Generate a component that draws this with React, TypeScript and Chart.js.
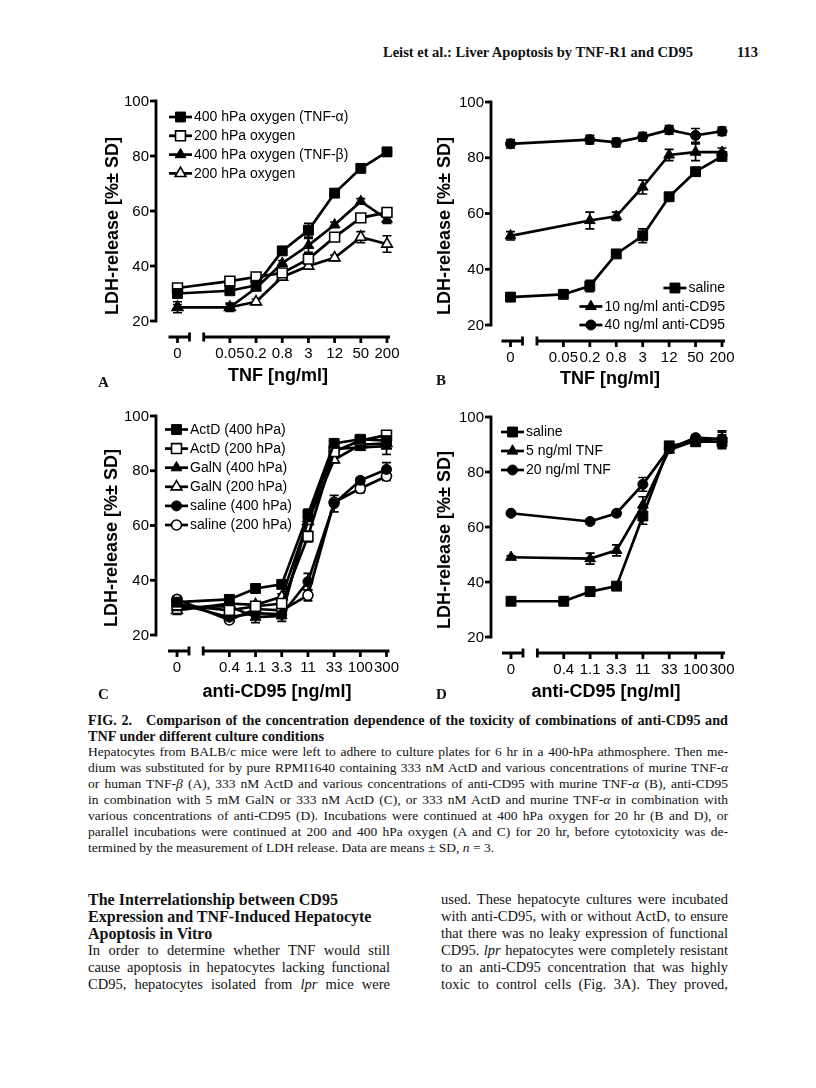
import React, { useEffect, useRef } from "react";
import { Chart, registerables } from "chart.js";

Chart.register(...registerables);

// ---------------- DATA ----------------
const tnfDoses = ["0", "0.05", "0.2", "0.8", "3", "12", "50", "200"];
const cd95Doses = ["0", "0.4", "1.1", "3.3", "11", "33", "100", "300"];
const yTickValues = [20, 40, 60, 80, 100];
const yTitle = "LDH-release [%\u00B1 SD]";

// Panel A
const aLabels = ["400 hPa oxygen (TNF-\u03B1)", "200 hPa oxygen", "400 hPa oxygen (TNF-\u03B2)", "200 hPa oxygen"];
const aTnfAlpha400 = [30, 31, 33, 45.5, 53, 66.5, 75.5, 81.5];
const aTnfAlpha400Sd = [1, 1, 1, 1, 2.5, 1, 1, 1.5];
const aTnfAlpha200 = [32, 34.5, 36, 37.5, 42.5, 50.5, 57.5, 59.5];
const aTnfAlpha200Sd = [1, 1, 1, 1, 2, 1, 1.5, 1.5];
const aTnfBeta400 = [25, 25, 32, 41, 47.5, 55, 63.5, 57];
const aTnfBeta400Sd = [2, 1.5, 1, 1, 2.5, 1, 1, 1.5];
const aTnfBeta200 = [25, 25, 27, 36, 40, 43, 50.5, 48];
const aTnfBeta200Sd = [1, 1, 1, 1, 1, 1, 2, 3];

// Panel B
const bLabels = ["saline", "10 ng/ml anti-CD95", "40 ng/ml anti-CD95"];
const bSaline = [30, 31, 34, 45.5, 52, 66, 75, 80.5];
const bSalineSd = [1, 1, 2, 1, 2.5, 1, 1, 1.5];
const bCd95Low = [52, null, 57.5, 59, 69.5, 81, 82, 82];
const bCd95LowSd = [1.5, 0, 3, 1.5, 2.5, 2, 3, 1.5];
const bCd95High = [85, null, 86.5, 85.5, 87.5, 90, 88, 89.5];
const bCd95HighSd = [1.5, 0, 1.5, 1.5, 1.5, 1.5, 2.5, 1.5];

// Panel C
const cLabels = ["ActD (400 hPa)", "ActD (200 hPa)", "GalN (400 hPa)", "GalN (200 hPa)", "saline (400 hPa)", "saline (200 hPa)"];
const cActD400 = [32, 33, 37, 38.5, 64, 90, 91.5, 91];
const cActD400Sd = [2, 1, 1, 1, 2, 1, 1, 2];
const cActD200 = [31, 29, 30.5, 31.5, 56, 87, 91, 93];
const cActD200Sd = [1.5, 1, 1.5, 1, 2, 1, 1, 1];
const cGalN400 = [30, 30.5, 26.5, 27, 62.5, 88, 88.5, 89];
const cGalN400Sd = [2, 1, 2, 2, 2, 1, 1, 3];
const cGalN200 = [29, 31.5, 31, 34, 61.5, 84, 89.5, 90];
const cGalN200Sd = [1.5, 1, 1, 1, 1, 1, 1, 1];
const cSaline400 = [31.5, 26.5, 28, 27.5, 39.5, 68, 76.5, 80.5];
const cSaline400Sd = [1.5, 1, 1, 1, 3, 3, 1, 2.5];
const cSaline200 = [33, 25.5, 29.5, 29, 34.5, 68.5, 73.5, 78];
const cSaline200Sd = [1, 1, 1, 1, 2, 1, 1.5, 1.5];

// Panel D
const dLabels = ["saline", "5 ng/ml TNF", "20 ng/ml TNF"];
const dSaline = [33, 33, 36.5, 38.5, 64, 89.5, 91, 91];
const dSalineSd = [0.5, 1.5, 1.5, 1, 3, 1, 1.5, 2.5];
const dTnf5 = [49, null, 48.5, 51.5, 68, 88, 91.5, 92];
const dTnf5Sd = [0.5, 0, 2, 2, 3, 1, 1, 2.5];
const dTnf20 = [65, null, 62, 65, 75.5, 88.5, 92.5, 92];
const dTnf20Sd = [0.5, 0, 1, 1, 2.5, 1, 1, 3];

// ---------------- STYLE / LAYOUT ----------------
const SANS = "'Liberation Sans', Arial, Helvetica, sans-serif";
const SERIF = "'Liberation Serif', 'Times New Roman', serif";
const RADIUS: Record<string, number> = { rect: 7, triangle: 6.2, circle: 5 };
const LINE_W = 2.7;

type Marker = "rect" | "triangle" | "circle";
type Series = { label: string; values: (number | null)[]; sd: number[]; marker: Marker; filled: boolean };
type Panel = {
  canvas: { left: number; top: number; width: number; height: number };
  area: { left: number; right: number; top: number; bottom: number };
  yAxisX: number;
  doses: string[];
  series: Series[];
  xTitle: string;
  xTitleX: number;
  xTitleY: number;
  yTitleX: number;
  yTitleY: number;
  legend: { align: "left" | "right"; lineX?: number; textX?: number; textRight?: number; y0: number; step: number };
};

const panels: Panel[] = [
  {
    canvas: { left: 80, top: 85, width: 340, height: 310 },
    area: { left: 177.5, right: 387, top: 101, bottom: 321 },
    yAxisX: 156,
    doses: tnfDoses,
    series: [
      { label: aLabels[0], values: aTnfAlpha400, sd: aTnfAlpha400Sd, marker: "rect", filled: true },
      { label: aLabels[1], values: aTnfAlpha200, sd: aTnfAlpha200Sd, marker: "rect", filled: false },
      { label: aLabels[2], values: aTnfBeta400, sd: aTnfBeta400Sd, marker: "triangle", filled: true },
      { label: aLabels[3], values: aTnfBeta200, sd: aTnfBeta200Sd, marker: "triangle", filled: false },
    ],
    xTitle: "TNF [ng/ml]",
    xTitleX: 278,
    xTitleY: 381,
    yTitleX: 113,
    yTitleY: 226,
    legend: { align: "left", lineX: 169, textX: 194, y0: 117, step: 18.8 },
  },
  {
    canvas: { left: 425, top: 85, width: 340, height: 310 },
    area: { left: 510.5, right: 722, top: 102, bottom: 325 },
    yAxisX: 491,
    doses: tnfDoses,
    series: [
      { label: bLabels[0], values: bSaline, sd: bSalineSd, marker: "rect", filled: true },
      { label: bLabels[1], values: bCd95Low, sd: bCd95LowSd, marker: "triangle", filled: true },
      { label: bLabels[2], values: bCd95High, sd: bCd95HighSd, marker: "circle", filled: true },
    ],
    xTitle: "TNF [ng/ml]",
    xTitleX: 610,
    xTitleY: 384,
    yTitleX: 445,
    yTitleY: 226,
    legend: { align: "right", textRight: 725, y0: 288, step: 18.5 },
  },
  {
    canvas: { left: 80, top: 400, width: 340, height: 310 },
    area: { left: 177, right: 386.5, top: 416, bottom: 635 },
    yAxisX: 156,
    doses: cd95Doses,
    series: [
      { label: cLabels[0], values: cActD400, sd: cActD400Sd, marker: "rect", filled: true },
      { label: cLabels[1], values: cActD200, sd: cActD200Sd, marker: "rect", filled: false },
      { label: cLabels[2], values: cGalN400, sd: cGalN400Sd, marker: "triangle", filled: true },
      { label: cLabels[3], values: cGalN200, sd: cGalN200Sd, marker: "triangle", filled: false },
      { label: cLabels[4], values: cSaline400, sd: cSaline400Sd, marker: "circle", filled: true },
      { label: cLabels[5], values: cSaline200, sd: cSaline200Sd, marker: "circle", filled: false },
    ],
    xTitle: "anti-CD95 [ng/ml]",
    xTitleX: 277,
    xTitleY: 697,
    yTitleX: 112,
    yTitleY: 538,
    legend: { align: "left", lineX: 165, textX: 190, y0: 429.5, step: 19.1 },
  },
  {
    canvas: { left: 425, top: 400, width: 340, height: 310 },
    area: { left: 511, right: 722, top: 417, bottom: 637 },
    yAxisX: 491,
    doses: cd95Doses,
    series: [
      { label: dLabels[0], values: dSaline, sd: dSalineSd, marker: "rect", filled: true },
      { label: dLabels[1], values: dTnf5, sd: dTnf5Sd, marker: "triangle", filled: true },
      { label: dLabels[2], values: dTnf20, sd: dTnf20Sd, marker: "circle", filled: true },
    ],
    xTitle: "anti-CD95 [ng/ml]",
    xTitleX: 606,
    xTitleY: 697,
    yTitleX: 445,
    yTitleY: 540,
    legend: { align: "left", lineX: 501, textX: 526, y0: 432, step: 19 },
  },
];

// insert the axis break as an empty category after the zero dose
function withBreak<T>(arr: T[], filler: T): T[] {
  return [arr[0], filler, ...arr.slice(1)];
}

function drawMarker(ctx: CanvasRenderingContext2D, marker: Marker, filled: boolean, x: number, y: number) {
  const r = RADIUS[marker];
  ctx.beginPath();
  if (marker === "rect") {
    const s = Math.SQRT1_2 * r;
    ctx.rect(x - s, y - s, 2 * s, 2 * s);
  } else if (marker === "triangle") {
    let a = 0;
    ctx.moveTo(x + Math.sin(a) * r, y - Math.cos(a) * r);
    a += (2 * Math.PI) / 3;
    ctx.lineTo(x + Math.sin(a) * r, y - Math.cos(a) * r);
    a += (2 * Math.PI) / 3;
    ctx.lineTo(x + Math.sin(a) * r, y - Math.cos(a) * r);
    ctx.closePath();
  } else {
    ctx.arc(x, y, r, 0, Math.PI * 2);
  }
  ctx.fillStyle = filled ? "#000" : "#fff";
  ctx.fill();
  ctx.lineWidth = filled ? 1 : 1.6;
  ctx.strokeStyle = "#000";
  ctx.stroke();
}

function makePlugin(panel: Panel) {
  const ox = panel.canvas.left;
  const oy = panel.canvas.top;
  return {
    id: "prismAxes",
    beforeDatasetsDraw(chart: any) {
      const ctx: CanvasRenderingContext2D = chart.ctx;
      const ys = chart.scales.y;
      ctx.save();
      ctx.strokeStyle = "#000";
      ctx.lineWidth = 1.7;
      panel.series.forEach((s, i) => {
        const meta = chart.getDatasetMeta(i);
        const vals = withBreak(s.values, null);
        const sds = withBreak(s.sd, 0);
        vals.forEach((v, j) => {
          const sd = sds[j];
          if (v == null || !sd) return;
          const pt = meta.data[j];
          if (!pt) return;
          const x = pt.x;
          const yt = ys.getPixelForValue(v + sd);
          const yb = ys.getPixelForValue(v - sd);
          ctx.beginPath();
          ctx.moveTo(x, yt);
          ctx.lineTo(x, yb);
          ctx.moveTo(x - 4.5, yt);
          ctx.lineTo(x + 4.5, yt);
          ctx.moveTo(x - 4.5, yb);
          ctx.lineTo(x + 4.5, yb);
          ctx.stroke();
        });
      });
      ctx.restore();
    },
    afterDraw(chart: any) {
      const ctx: CanvasRenderingContext2D = chart.ctx;
      const xs = chart.scales.x;
      const ys = chart.scales.y;
      const area = chart.chartArea;
      const ax = panel.yAxisX - ox;
      ctx.save();
      ctx.strokeStyle = "#000";
      ctx.fillStyle = "#000";
      ctx.lineWidth = 2.8;
      ctx.lineCap = "butt";

      // y axis
      const yTop = ys.getPixelForValue(100);
      const yBot = ys.getPixelForValue(20);
      ctx.beginPath();
      ctx.moveTo(ax, yTop - 1.4);
      ctx.lineTo(ax, yBot + 1.4);
      ctx.stroke();
      ctx.font = `15px ${SANS}`;
      ctx.textAlign = "right";
      ctx.textBaseline = "middle";
      yTickValues.forEach((v) => {
        const y = ys.getPixelForValue(v);
        ctx.beginPath();
        ctx.moveTo(ax - 6, y);
        ctx.lineTo(ax, y);
        ctx.stroke();
        ctx.fillText(String(v), ax - 7, y + 0.5);
      });

      // x axis (broken)
      const xy = area.bottom + 16;
      const labels: string[] = chart.data.labels;
      const x0 = xs.getPixelForValue(0);
      const x1 = xs.getPixelForValue(2);
      const step = xs.getPixelForValue(3) - x1;
      ctx.beginPath();
      ctx.moveTo(x0 - 9, xy);
      ctx.lineTo(x0 + 12, xy);
      ctx.moveTo(x0 + 12, xy - 4.5);
      ctx.lineTo(x0 + 12, xy + 4.5);
      ctx.moveTo(x1 - step, xy);
      ctx.lineTo(area.right + 3, xy);
      ctx.moveTo(x1 - step, xy - 4.5);
      ctx.lineTo(x1 - step, xy + 4.5);
      ctx.stroke();
      ctx.textAlign = "center";
      ctx.textBaseline = "alphabetic";
      labels.forEach((lab, i) => {
        if (!lab) return;
        const x = xs.getPixelForValue(i);
        ctx.beginPath();
        ctx.moveTo(x, xy);
        ctx.lineTo(x, xy + 6);
        ctx.stroke();
        ctx.fillText(lab, x, xy + 21);
      });

      // axis titles
      ctx.font = `bold 18px ${SANS}`;
      ctx.textAlign = "center";
      ctx.fillText(panel.xTitle, panel.xTitleX - ox, panel.xTitleY - oy);
      ctx.save();
      ctx.translate(panel.yTitleX - ox, panel.yTitleY - oy);
      ctx.rotate(-Math.PI / 2);
      ctx.textBaseline = "middle";
      ctx.fillText(yTitle, 0, 0);
      ctx.restore();

      // legend
      ctx.font = `14px ${SANS}`;
      ctx.textBaseline = "middle";
      const lg = panel.legend;
      panel.series.forEach((s, i) => {
        const y = lg.y0 + i * lg.step - oy;
        let lineX: number;
        let textX: number;
        if (lg.align === "right") {
          const w = ctx.measureText(s.label).width;
          textX = (lg.textRight as number) - ox - w;
          lineX = textX - 25;
        } else {
          lineX = (lg.lineX as number) - ox;
          textX = (lg.textX as number) - ox;
        }
        ctx.strokeStyle = "#000";
        ctx.lineWidth = LINE_W;
        ctx.beginPath();
        ctx.moveTo(lineX, y);
        ctx.lineTo(lineX + 23, y);
        ctx.stroke();
        drawMarker(ctx, s.marker, s.filled, lineX + 11.5, y);
        ctx.fillStyle = "#000";
        ctx.textAlign = "left";
        ctx.fillText(s.label, textX, y + 0.5);
      });
      ctx.restore();
    },
  };
}

function buildConfig(panel: Panel): any {
  const labels = withBreak(panel.doses, "");
  const datasets = panel.series.map((s) => ({
    label: s.label,
    data: withBreak(s.values, null),
    borderColor: "#000",
    backgroundColor: "#000",
    borderWidth: LINE_W,
    pointStyle: s.marker,
    pointRadius: RADIUS[s.marker],
    pointHoverRadius: RADIUS[s.marker],
    pointBackgroundColor: s.filled ? "#000" : "#fff",
    pointBorderColor: "#000",
    pointBorderWidth: s.filled ? 1 : 1.6,
    spanGaps: true,
    tension: 0,
    fill: false,
    clip: false,
    segment: {
      borderDash: (ctx: any) => (ctx.p0DataIndex === 0 ? [12, 12, 2000] : undefined),
    },
  }));
  const c = panel.canvas;
  const a = panel.area;
  return {
    type: "line",
    data: { labels, datasets },
    options: {
      animation: false,
      responsive: false,
      maintainAspectRatio: false,
      devicePixelRatio: 1,
      events: [],
      layout: {
        padding: {
          left: a.left - c.left,
          top: a.top - c.top,
          right: c.left + c.width - a.right,
          bottom: c.top + c.height - a.bottom,
        },
      },
      scales: {
        x: { type: "category", display: false, offset: false },
        y: { type: "linear", min: 20, max: 100, display: false },
      },
      plugins: { legend: { display: false }, tooltip: { enabled: false }, title: { display: false } },
    },
    plugins: [makePlugin(panel)],
  };
}

function PanelChart({ panel }: { panel: Panel }) {
  const ref = useRef<HTMLCanvasElement | null>(null);
  useEffect(() => {
    if (!ref.current) return;
    const chart = new Chart(ref.current, buildConfig(panel));
    return () => chart.destroy();
  }, [panel]);
  const c = panel.canvas;
  return (
    <canvas
      ref={ref}
      width={c.width}
      height={c.height}
      style={{ position: "absolute", left: c.left, top: c.top, width: c.width, height: c.height }}
    />
  );
}

function TL(props: {
  x: number;
  y: number;
  w?: number;
  size: number;
  bold?: boolean;
  justify?: boolean;
  lh?: number;
  children: React.ReactNode;
}) {
  const lh = props.lh ?? 18;
  return (
    <div
      style={{
        position: "absolute",
        left: props.x,
        top: props.y - lh / 2,
        width: props.w,
        fontSize: props.size,
        lineHeight: `${lh}px`,
        fontWeight: props.bold ? "bold" : "normal",
        textAlign: props.justify ? "justify" : "left",
        textAlignLast: props.justify ? "justify" : "left",
        whiteSpace: props.w ? "normal" : "nowrap",
      } as React.CSSProperties}
    >
      {props.children}
    </div>
  );
}

export default function App() {
  const capX = 88;
  const capW = 640;
  const capS = 13.5;
  const lx = 88;
  const lw = 302;
  const rx = 441;
  const rw = 287;
  const bs = 14.5;
  const hs = 16;
  return (
    <div
      style={{
        position: "absolute",
        left: 0,
        top: 0,
        width: 816,
        height: 1088,
        background: "#fff",
        overflow: "hidden",
        fontFamily: SERIF,
        color: "#111",
      }}
    >
      <TL x={383} y={52} size={14.5} bold>
        Leist et al.: Liver Apoptosis by TNF-R1 and CD95
      </TL>
      <TL x={737} y={52} size={14.5} bold>
        113
      </TL>

      {panels.map((p, i) => (
        <PanelChart key={i} panel={p} />
      ))}

      <TL x={98} y={382} size={15} bold>A</TL>
      <TL x={436} y={380} size={15} bold>B</TL>
      <TL x={98} y={694} size={15} bold>C</TL>
      <TL x={436} y={694} size={15} bold>D</TL>

      <TL x={capX} y={720} w={capW} size={14.2} bold justify lh={16}>
        FIG. 2.&nbsp;&nbsp; Comparison of the concentration dependence of the toxicity of combinations of anti-CD95 and
      </TL>
      <TL x={capX} y={736} size={14.2} bold lh={16}>
        TNF under different culture conditions
      </TL>
      <TL x={capX} y={752} w={capW} size={capS} justify lh={16}>
        Hepatocytes from BALB/c mice were left to adhere to culture plates for 6 hr in a 400-hPa athmosphere. Then me-
      </TL>
      <TL x={capX} y={768} w={capW} size={capS} justify lh={16}>
        dium was substituted for by pure RPMI1640 containing 333 nM ActD and various concentrations of murine TNF-<i>α</i>
      </TL>
      <TL x={capX} y={784} w={capW} size={capS} justify lh={16}>
        or human TNF-<i>β</i> (A), 333 nM ActD and various concentrations of anti-CD95 with murine TNF-<i>α</i> (B), anti-CD95
      </TL>
      <TL x={capX} y={800} w={capW} size={capS} justify lh={16}>
        in combination with 5 mM GalN or 333 nM ActD (C), or 333 nM ActD and murine TNF-<i>α</i> in combination with
      </TL>
      <TL x={capX} y={816} w={capW} size={capS} justify lh={16}>
        various concentrations of anti-CD95 (D). Incubations were continued at 400 hPa oxygen for 20 hr (B and D), or
      </TL>
      <TL x={capX} y={832} w={capW} size={capS} justify lh={16}>
        parallel incubations were continued at 200 and 400 hPa oxygen (A and C) for 20 hr, before cytotoxicity was de-
      </TL>
      <TL x={capX} y={848} size={capS} lh={16}>
        termined by the measurement of LDH release. Data are means ± SD, <i>n</i> = 3.
      </TL>

      <TL x={lx} y={899} size={hs} bold lh={17}>The Interrelationship between CD95</TL>
      <TL x={lx} y={916} size={hs} bold lh={17}>Expression and TNF-Induced Hepatocyte</TL>
      <TL x={lx} y={933} size={hs} bold lh={17}>Apoptosis in Vitro</TL>
      <TL x={lx} y={950} w={lw} size={bs} justify lh={17}>In order to determine whether TNF would still</TL>
      <TL x={lx} y={967} w={lw} size={bs} justify lh={17}>cause apoptosis in hepatocytes lacking functional</TL>
      <TL x={lx} y={984} w={lw} size={bs} justify lh={17}>
        CD95, hepatocytes isolated from <i>lpr</i> mice were
      </TL>

      <TL x={rx} y={899} w={rw} size={bs} justify lh={17}>used. These hepatocyte cultures were incubated</TL>
      <TL x={rx} y={916} w={rw} size={bs} justify lh={17}>with anti-CD95, with or without ActD, to ensure</TL>
      <TL x={rx} y={933} w={rw} size={bs} justify lh={17}>that there was no leaky expression of functional</TL>
      <TL x={rx} y={950} w={rw} size={bs} justify lh={17}>
        CD95. <i>lpr</i> hepatocytes were completely resistant
      </TL>
      <TL x={rx} y={967} w={rw} size={bs} justify lh={17}>to an anti-CD95 concentration that was highly</TL>
      <TL x={rx} y={984} w={rw} size={bs} justify lh={17}>toxic to control cells (Fig. 3A). They proved,</TL>
    </div>
  );
}
